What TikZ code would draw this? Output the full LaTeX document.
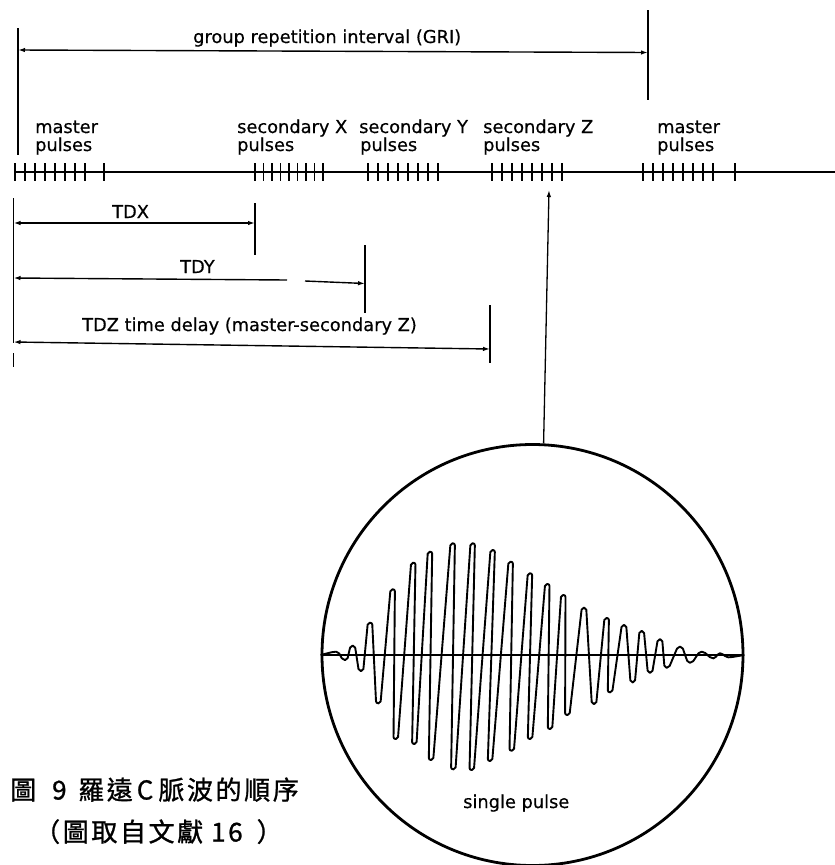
\documentclass[tikz,border=0pt]{standalone}
\usepackage{fontspec}
\setmainfont{DejaVu Sans}[FakeBold=0.5]
\newfontfamily\cjkfont[LetterSpace=10,FakeBold=1]{Noto Sans CJK TC}
\usetikzlibrary{arrows.meta}
\newcommand\lblfont{\fontsize{17.8}{19}\selectfont}
\newcommand\capfont{\cjkfont\fontsize{26}{28}\selectfont}
\begin{document}
\begin{tikzpicture}[x=1pt,y=-1pt,
 lbl/.style={font=\lblfont, inner sep=0pt, anchor=base west},
 captext/.style={font=\capfont, inner sep=0pt, anchor=base west},
 thinline/.style={line width=1.3pt},
 dim/.style={line width=1.4pt, {Latex[length=7pt,width=4.5pt]}-{Latex[length=7pt,width=4.5pt]}},
 larrow/.style={line width=1.4pt, {Latex[length=7pt,width=4.5pt]}-},
 rarrow/.style={line width=1.4pt, -{Latex[length=7pt,width=4.5pt]}},
 pulsetick/.style={line width=1.8pt},
 wave/.style={line width=1.9pt, rounded corners=2pt, line join=round},
]
\useasboundingbox (0,0) rectangle (835,865);
\clip (0,0) rectangle (835,865);

% GRI
\node[lbl] (gri) at (193,43) {group repetition interval (GRI)};
\coordinate (griL) at (18,50);
\coordinate (griR) at (648,52.5);
\coordinate (griLt) at (18,28);
\coordinate (griLb) at (18,155);
\coordinate (griRt) at (648,10);
\coordinate (griRb) at (648,100);
\draw[thinline] (griLt) -- (griLb);
\draw[thinline] (griRt) -- (griRb);
\draw[dim] (griL) -- (griR);

% pulse labels
\node[lbl] (m1a) at (35,133) {master};
\node[lbl] (m1b) at (35,151) {pulses};
\node[lbl] (sxa) at (237,133) {secondary X};
\node[lbl] (sxb) at (237,151) {pulses};
\node[lbl] (sya) at (359,133) {secondary Y};
\node[lbl] (syb) at (360,151) {pulses};
\node[lbl] (sza) at (483,133) {secondary Z};
\node[lbl] (szb) at (483,151) {pulses};
\node[lbl] (m2a) at (657,133) {master};
\node[lbl] (m2b) at (657,151) {pulses};

% time axis and pulses
\coordinate (axL) at (14,172);
\coordinate (axR) at (835,172);
\draw[pulsetick] (axL) -- (axR);
\foreach \x in {15,25,...,85,104} \draw[pulsetick] (\x,163) -- (\x,181);
\foreach \x in {255,263.5,...,324} \draw[pulsetick] (\x,163) -- (\x,181);
\foreach \x in {368,378,...,438} \draw[pulsetick] (\x,163) -- (\x,181);
\foreach \x in {492,502,...,562} \draw[pulsetick] (\x,163) -- (\x,181);
\foreach \x in {643,653,...,713,735} \draw[pulsetick] (\x,163) -- (\x,181);

% time differences
\coordinate (tdl1) at (13.5,198);
\coordinate (tdl2) at (13.5,343);
\coordinate (tdl3) at (13.5,353);
\coordinate (tdl4) at (13.5,367);
\draw[thinline] (tdl1) -- (tdl2);
\draw[thinline] (tdl3) -- (tdl4);

\node[lbl] (tdx) at (112,218) {TDX};
\coordinate (tdxL) at (13.5,223);
\coordinate (tdxR) at (255,223);
\coordinate (tdxVt) at (255,203);
\coordinate (tdxVb) at (255,255);
\draw[thinline] (tdxVt) -- (tdxVb);
\draw[dim] (tdxL) -- (tdxR);

\node[lbl] (tdy) at (180,273) {TDY};
\coordinate (tdyL) at (13.5,278);
\coordinate (tdyM1) at (287,280);
\coordinate (tdyM2) at (305,281);
\coordinate (tdyR) at (365,283.5);
\coordinate (tdyVt) at (365,245);
\coordinate (tdyVb) at (365,313);
\draw[thinline] (tdyVt) -- (tdyVb);
\draw[larrow] (tdyL) -- (tdyM1);
\draw[rarrow] (tdyM2) -- (tdyR);

\node[lbl] (tdz) at (82,331) {TDZ time delay (master-secondary Z)};
\coordinate (tdzL) at (13.5,342);
\coordinate (tdzR) at (490,349);
\coordinate (tdzVt) at (490,305);
\coordinate (tdzVb) at (490,363);
\draw[thinline] (tdzVt) -- (tdzVb);
\draw[dim] (tdzL) -- (tdzR);

% scope circle
\node[circle, draw, line width=2.8pt, minimum size=421pt, inner sep=0pt] (scope) at (532.5,655) {};
\coordinate (zarrow) at (549,190);
\draw[rarrow, line width=1.3pt] (scope.87) -- (zarrow);
\draw[line width=2pt] (scope.west) -- (scope.east);
\draw[wave] (scope.west)
 \foreach \px/\py in {336/651.7, 345/660, 352.7/645.7, 361/671,
   370/622.7, 378.3/703.3, 392.7/589.3, 395.7/739,
   413.3/562.7, 414.3/744, 430/551.7, 431/760,
   452.7/543.3, 453.3/769.3, 472.7/543.3, 471.7/770,
   492.7/550, 490/761, 510.7/561.7, 511.7/750.7,
   530/573.3, 530/739, 547.3/584, 550/729,
   563.3/595, 567.3/715, 584/607.7, 594/704,
   606.7/618, 610/692.3, 624/625, 632.7/682.3,
   641.7/631, 650/672.7, 660/639.3, 666.7/667.7,
   680/646.7, 690/662.7, 701.7/651.7, 713.3/658.3,
   720/653.3, 728.3/657.3}
 { -- (\px-2.2,\py) -- (\px+2.2,\py) }
 -- (scope.east);
\node[lbl] (sp) at (463,808) {single pulse};

% caption
\node[captext] (cap1a) at (10,799.5) {圖\hspace{16pt}9};
\node[captext] (cap1b) at (78,799.5) {羅遠\hspace{4pt}C\hspace{5pt}脈波的順序};
\node[captext] (cap2) at (34,841.5) {（圖取自文獻\hspace{8pt}16\hspace{14pt}）};
\end{tikzpicture}
\end{document}
